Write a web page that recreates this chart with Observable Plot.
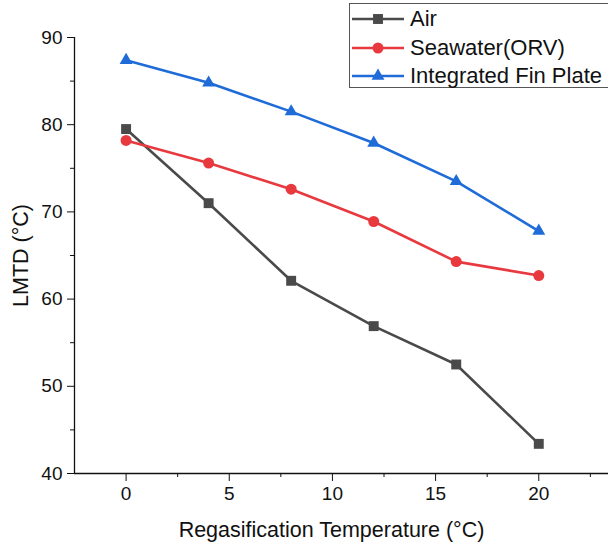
<!DOCTYPE html>
<html>
<head>
<meta charset="utf-8">
<script src="https://cdn.jsdelivr.net/npm/d3@7"></script>
<script src="https://cdn.jsdelivr.net/npm/@observablehq/plot@0.6"></script>
<style>
  html, body { margin: 0; padding: 0; background: #fff; }
  #wrap { position: relative; width: 608px; height: 547px; overflow: hidden; font-family: "Liberation Sans", Arial, sans-serif; }
  #wrap svg text { font-family: "Liberation Sans", Arial, sans-serif; fill: #111; }
  g[aria-label="x-axis tick label"] text, g[aria-label="y-axis tick label"] text { font-size: 19px; }
  g[aria-label="x-axis label"] text, g[aria-label="y-axis label"] text { font-size: 21.5px; }
  #legend { position: absolute; left: 349px; top: 3px; width: 280px; height: 85px; border: 1px solid #555; background: #fff; box-sizing: border-box; }
  .row { position: absolute; left: 0; height: 28px; display: flex; align-items: center; }
  .row span { font-size: 22px; color: #111; margin-left: 4px; white-space: nowrap; }
</style>
</head>
<body>
<div id="wrap"></div>
<script>
// ---- data ----
const temps = [0, 4, 8, 12, 16, 20];
const air = [79.5, 71.0, 62.1, 56.9, 52.5, 43.4];
const seawater = [78.2, 75.6, 72.6, 68.9, 64.3, 62.7];
const finPlate = [87.4, 84.8, 81.5, 77.9, 73.5, 67.8];

const seriesNames = ["Air", "Seawater(ORV)", "Integrated Fin Plate"];
const seriesColors = ["#4a4a4a", "#e8393f", "#1f6bd8"];
const seriesSymbols = ["square", "circle", "triangle"];
const seriesValues = [air, seawater, finPlate];

const xMajor = [0, 5, 10, 15, 20];
const xMinor = [2.5, 7.5, 12.5, 17.5, 22.5];
const yMajor = [40, 50, 60, 70, 80, 90];
const yMinor = [45, 55, 65, 75, 85];

const rows = [];
seriesNames.forEach((name, i) => {
  temps.forEach((t, j) => rows.push({series: name, t, v: seriesValues[i][j]}));
});

const marks = [];
seriesNames.forEach((name, i) => {
  const d = rows.filter(r => r.series === name);
  marks.push(Plot.line(d, {x: "t", y: "v", stroke: seriesColors[i], strokeWidth: 2.6}));
});
seriesNames.forEach((name, i) => {
  const d = rows.filter(r => r.series === name);
  const r = seriesSymbols[i] === "square" ? 5.6 : seriesSymbols[i] === "circle" ? 5.5 : 4.8;
  marks.push(Plot.dot(d, {x: "t", y: "v", symbol: () => seriesSymbols[i], fill: seriesColors[i], stroke: "none", r}));
});

const chart = Plot.plot({
  width: 608,
  height: 547,
  marginLeft: 74,
  marginRight: 20,
  marginTop: 37,
  marginBottom: 74,
  x: {domain: [-2.5, 22.41]},
  y: {domain: [40, 90]},
  symbol: {type: "identity"},
  marks: [
    Plot.ruleX([-2.5], {stroke: "#111", strokeWidth: 1.3}),
    Plot.ruleY([40], {x1: -2.5, x2: 23.5, stroke: "#111", strokeWidth: 1.3}),
    Plot.axisY(yMajor, {tickSize: 7, tickPadding: 5, stroke: "#111", label: "LMTD (°C)", labelAnchor: "center", labelOffset: 62, labelArrow: "none"}),
    Plot.axisY(yMinor, {tickSize: 4, tickFormat: () => "", stroke: "#111", label: null}),
    Plot.axisX(xMajor, {tickSize: 8, tickPadding: 5, stroke: "#111", label: "Regasification Temperature (°C)", labelAnchor: "center", labelOffset: 63, labelArrow: "none"}),
    Plot.axisX(xMinor, {tickSize: 4, tickFormat: () => "", stroke: "#111", label: null}),
    ...marks
  ]
});
const wrap = document.getElementById("wrap");
wrap.appendChild(chart);

// legend
const legend = document.createElement("div");
legend.id = "legend";
seriesNames.forEach((name, i) => {
  const row = document.createElement("div");
  row.className = "row";
  row.style.top = (1 + i * 28.5) + "px";
  const svg = d3.create("svg").attr("width", 56).attr("height", 28);
  svg.append("line").attr("x1", 2).attr("x2", 54).attr("y1", 14).attr("y2", 14).attr("stroke", seriesColors[i]).attr("stroke-width", 2.6);
  const symType = {square: d3.symbolSquare, circle: d3.symbolCircle, triangle: d3.symbolTriangle}[seriesSymbols[i]];
  const rr = seriesSymbols[i] === "square" ? 5.6 : seriesSymbols[i] === "circle" ? 5.5 : 4.8;
  svg.append("path").attr("transform", "translate(28,14)").attr("d", d3.symbol(symType, Math.PI * rr * rr)()).attr("fill", seriesColors[i]);
  row.appendChild(svg.node());
  const sp = document.createElement("span");
  sp.textContent = name;
  row.appendChild(sp);
  legend.appendChild(row);
});
wrap.appendChild(legend);
</script>
</body>
</html>
